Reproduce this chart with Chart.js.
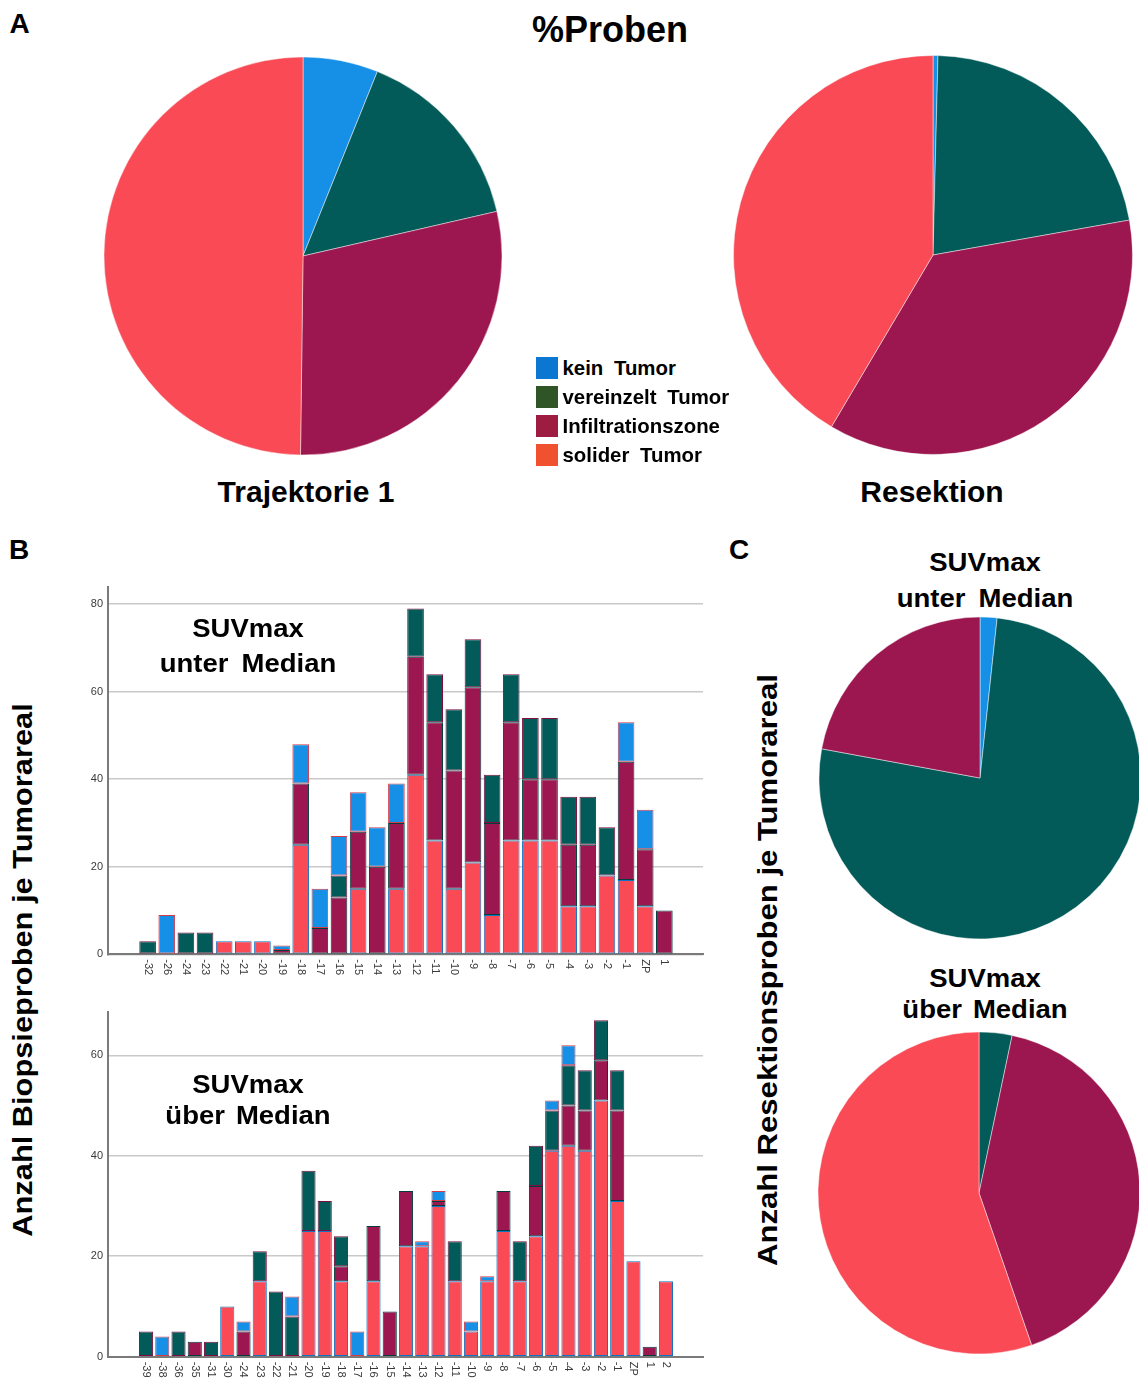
<!DOCTYPE html>
<html lang="de">
<head>
<meta charset="utf-8">
<title>%Proben</title>
<script src="https://cdn.jsdelivr.net/npm/chart.js@4.4.1/dist/chart.umd.min.js"></script>
<style>
  html, body { margin: 0; padding: 0; background: #fff; }
  #fig { position: relative; width: 1139px; height: 1378px; overflow: hidden;
         font-family: "Liberation Sans", Arial, Helvetica, sans-serif; color: #000; }
  #fig canvas { position: absolute; }
  .t { position: absolute; font-weight: bold; white-space: nowrap; line-height: 1.2; }
  .sw { position: absolute; }
</style>
</head>
<body>
<div id="fig">
  <canvas id="pieTraj" width="410" height="410" style="left:98px;top:51px"></canvas>
  <canvas id="pieRes" width="410" height="410" style="left:728px;top:50px"></canvas>
  <canvas id="barUnter" width="650" height="405" style="left:60px;top:575px"></canvas>
  <canvas id="barUeber" width="650" height="378" style="left:60px;top:1000px"></canvas>
  <canvas id="pieUnter" width="330" height="330" style="left:815px;top:613px"></canvas>
  <canvas id="pieUeber" width="330" height="330" style="left:814px;top:1028px"></canvas>
</div>
<script>
// Tumour categories (pie slice order, clockwise from 12 o'clock)
const tumorClasses = ['kein Tumor', 'vereinzelt Tumor', 'Infiltrationszone', 'solider Tumor'];
const sliceColors  = ['#1690E6', '#025B59', '#9C1750', '#F94A56'];
const legendColors = ['#0B77D0', '#2F5426', '#9E1B42', '#F0512E'];

// Panel A: share of samples (%)
const pieTrajektorie = [6.1, 15.3, 28.8, 49.8];
const pieResektion   = [0.4, 21.8, 36.3, 41.5];

// Panel C: resection samples per tumour area (%)
const pieResUnter = [1.7, 76.2, 22.1, 0];
const pieResUeber = [0, 3.3, 41.4, 55.3];

// Panel B, SUVmax unter Median: biopsy samples per trajectory position
const unterLabels = ['-32','-26','-24','-23','-22','-21','-20','-19','-18','-17','-16','-15','-14','-13',
                     '-12','-11','-10','-9','-8','-7','-6','-5','-4','-3','-2','-1','ZP','1'];
const unterSolid  = [0, 0, 0, 0, 3, 3, 3, 0, 25, 0, 0, 15, 0, 15, 41, 26, 15, 21, 9, 26, 26, 26, 11, 11, 18, 17, 11, 0];
const unterInfil  = [0, 0, 0, 0, 0, 0, 0, 1, 14, 6, 13, 13, 20, 15, 27, 27, 27, 40, 21, 27, 14, 14, 14, 14, 0, 27, 13, 10];
const unterVer    = [3, 0, 5, 5, 0, 0, 0, 0, 0, 0, 5, 0, 0, 0, 11, 11, 14, 11, 11, 11, 14, 14, 11, 11, 11, 0, 0, 0];
const unterKein   = [0, 9, 0, 0, 0, 0, 0, 1, 9, 9, 9, 9, 9, 9, 0, 0, 0, 0, 0, 0, 0, 0, 0, 0, 0, 9, 9, 0];

// Panel B, SUVmax über Median
const ueberLabels = ['-39','-38','-36','-35','-31','-30','-24','-23','-22','-21','-20','-19','-18','-17','-16','-15','-14',
                     '-13','-12','-11','-10','-9','-8','-7','-6','-5','-4','-3','-2','-1','ZP','1','2'];
const ueberSolid  = [0, 0, 0, 0, 0, 10, 0, 15, 0, 0, 25, 25, 15, 0, 15, 0, 22, 22, 30, 15, 5, 15, 25, 15, 24, 41, 42, 41, 51, 31, 19, 0, 15];
const ueberInfil  = [0, 0, 0, 3, 0, 0, 5, 0, 0, 0, 0, 0, 3, 0, 11, 9, 11, 0, 1, 0, 0, 0, 8, 0, 10, 0, 8, 8, 8, 18, 0, 2, 0];
const ueberVer    = [5, 0, 5, 0, 3, 0, 0, 6, 13, 8, 12, 6, 6, 0, 0, 0, 0, 0, 0, 8, 0, 0, 0, 8, 8, 8, 8, 8, 8, 8, 0, 0, 0];
const ueberKein   = [0, 4, 0, 0, 0, 0, 2, 0, 0, 4, 0, 0, 0, 5, 0, 0, 0, 1, 2, 0, 2, 1, 0, 0, 0, 2, 4, 0, 0, 0, 0, 0, 0];

const FONT = '"Liberation Sans", Arial, Helvetica, sans-serif';
Chart.defaults.font.family = FONT;

const fig = document.getElementById('fig');

// text placed by its centre (x) and cap-height middle (y)
function label(text, x, y, size, extra, wordSpacing) {
  const d = document.createElement('div');
  d.className = 't';
  d.textContent = text;
  d.style.left = x + 'px';
  d.style.top = y + 'px';
  d.style.fontSize = size + 'px';
  if (wordSpacing) d.style.wordSpacing = wordSpacing + 'px';
  d.style.transform = 'translate(-50%,-50%)' + (extra ? ' ' + extra : '');
  fig.appendChild(d);
}

label('A', 19.5, 24, 28);
label('%Proben', 610, 30, 36);
label('Trajektorie 1', 306, 492, 30);
label('Resektion', 932, 492, 30);
label('B', 19, 550, 28);
label('C', 739, 550, 28);

label('SUVmax', 247.5, 627.5, 25, 'scaleX(1.1)');
label('unter Median', 247.5, 662.5, 25, 'scaleX(1.1)', 5);
label('SUVmax', 247.5, 1084, 25, 'scaleX(1.1)');
label('über Median', 247.5, 1115, 25, 'scaleX(1.1)', 3);
label('SUVmax', 985, 562, 25, 'scaleX(1.1)');
label('unter Median', 985, 597.5, 25, 'scaleX(1.1)', 5);
label('SUVmax', 985, 978, 25, 'scaleX(1.1)');
label('über Median', 985, 1009, 25, 'scaleX(1.1)', 3);

label('Anzahl Biopsieproben je Tumorareal', 23, 970, 28, 'rotate(-90deg) scaleX(1.1)');
label('Anzahl Resektionsproben je Tumorareal', 768, 970, 28, 'rotate(-90deg) scaleX(1.11)');

// legend
tumorClasses.forEach((name, i) => {
  const sw = document.createElement('div');
  sw.className = 'sw';
  sw.style.cssText = `left:536px;top:${357.3 + 29 * i}px;width:21.5px;height:22px;background:${legendColors[i]}`;
  fig.appendChild(sw);
  const tx = document.createElement('div');
  tx.className = 't';
  tx.textContent = name;
  tx.style.left = '562.5px';
  tx.style.top = (368 + 29 * i) + 'px';
  tx.style.fontSize = '20.4px';
  tx.style.wordSpacing = '5px';
  tx.style.transform = 'translateY(-50%)';
  fig.appendChild(tx);
});

const baseOpts = {
  responsive: false,
  animation: false,
  devicePixelRatio: 1,
  events: [],
  plugins: { legend: { display: false }, tooltip: { enabled: false } }
};

function pie(id, values, radius) {
  new Chart(document.getElementById(id), {
    type: 'pie',
    data: {
      labels: tumorClasses,
      datasets: [{
        data: values,
        backgroundColor: sliceColors,
        borderColor: 'rgba(255,255,255,0.45)',
        borderWidth: 1,
        radius: radius
      }]
    },
    options: Object.assign({}, baseOpts, { layout: { padding: 0 } })
  });
}

pie('pieTraj', pieTrajektorie, 199);
pie('pieRes', pieResektion, 199.5);
pie('pieUnter', pieResUnter, 161);
pie('pieUeber', pieResUeber, 161);

// category labels under the bars, rotated a quarter turn clockwise
const rotatedLabels = {
  id: 'rotatedLabels',
  afterDraw(chart, args, opts) {
    const { ctx, chartArea } = chart;
    const xs = chart.scales.x;
    ctx.save();
    ctx.font = '11px ' + FONT;
    ctx.fillStyle = '#3a3a3a';
    ctx.textAlign = 'left';
    ctx.textBaseline = 'middle';
    opts.labels.forEach((lab, i) => {
      ctx.save();
      ctx.translate(xs.getPixelForValue(i), chartArea.bottom + 5);
      ctx.rotate(Math.PI / 2);
      ctx.fillText(lab, 0, 0);
      ctx.restore();
    });
    ctx.restore();
  }
};

const barBorders = ['#D63C48', '#7C0F3E', '#013E3D', '#0F74C2'];

function stackedBars(id, labels, series, yMax, xMin, xMax, xAxisH) {
  // stacking order from the bottom: solider Tumor, Infiltrationszone, vereinzelt Tumor, kein Tumor
  const order = [3, 2, 1, 0];
  const datasets = series.map((vals, k) => {
    const c = order[k];
    return {
      label: tumorClasses[c],
      data: vals.map((v, i) => ({ x: i, y: v > 0 ? v : null })),
      backgroundColor: sliceColors[c],
      borderColor: barBorders[c],
      borderWidth: 1,
      borderSkipped: false,
      barPercentage: 0.87,
      categoryPercentage: 1
    };
  });
  new Chart(document.getElementById(id), {
    type: 'bar',
    data: { datasets },
    plugins: [rotatedLabels],
    options: Object.assign({}, baseOpts, {
      layout: { padding: { top: 8, right: 7, left: 0, bottom: 0 } },
      plugins: { legend: { display: false }, tooltip: { enabled: false }, rotatedLabels: { labels } },
      scales: {
        x: {
          type: 'linear', stacked: true, offset: false, min: xMin, max: xMax,
          afterFit: s => { s.height = xAxisH; },
          ticks: { display: false, stepSize: 1, includeBounds: false },
          grid: { display: false, drawTicks: false, offset: false },
          border: { display: true, color: '#7a7a7a', width: 2 }
        },
        y: {
          stacked: true, min: 0, max: yMax,
          afterFit: s => { s.width = 48; },
          ticks: { stepSize: 20, includeBounds: false, padding: 5, color: '#3a3a3a', font: { size: 11 } },
          grid: { color: '#c9c9c9', lineWidth: 1.5, drawTicks: false },
          border: { display: true, color: '#7a7a7a', width: 2 }
        }
      }
    })
  });
}

stackedBars('barUnter', unterLabels, [unterSolid, unterInfil, unterVer, unterKein], 84, -2.07, 29.02, 25.7);
stackedBars('barUeber', ueberLabels, [ueberSolid, ueberInfil, ueberVer, ueberKein], 68.7, -2.34, 34.28, 21.3);
</script>
</body>
</html>
